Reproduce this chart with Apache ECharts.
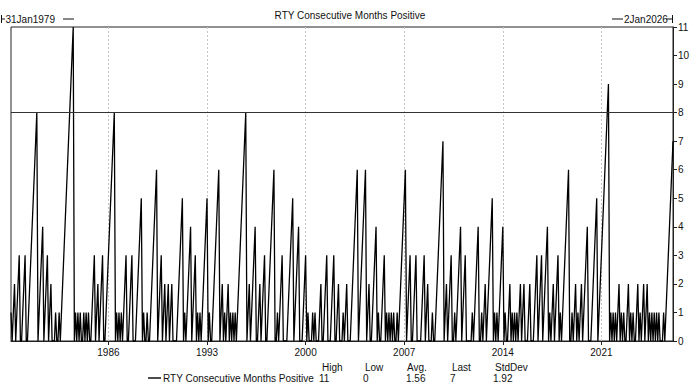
<!DOCTYPE html>
<html>
<head>
<meta charset="utf-8">
<script src="https://cdn.jsdelivr.net/npm/echarts@6/dist/echarts.min.js"></script>
<style>
html,body{margin:0;padding:0;background:#fff;}
#chart{width:700px;height:389px;}
</style>
</head>
<body>
<div id="chart"></div>
<script>
// ---- data (monthly, 31Jan1979 .. 2Jan2026) ----
const chartTitle = 'RTY Consecutive Months Positive';
const seriesName = 'RTY Consecutive Months Positive';
const startLabel = '31Jan1979';
const endLabel = '2Jan2026';
const yearTicks = ['1986', '1993', '2000', '2007', '2014', '2021'];
const statHeaders = ['High', 'Low', 'Avg.', 'Last', 'StdDev'];
const statValues = ['11', '0', '1.56', '7', '1.92'];

const monthsPositive = [
  // 1979
  1,0,1,2,0,1,2,3,0,0,1,2,
  // 1980
  3,0,0,1,2,3,4,5,6,7,8,0,
  // 1981
  1,2,3,4,0,1,2,3,0,1,2,0,
  // 1982
  0,0,1,0,0,1,0,1,2,3,4,5,
  // 1983
  6,7,8,9,10,11,0,1,0,1,0,1,
  // 1984
  0,0,1,0,1,0,1,0,0,1,2,3,
  // 1985
  0,1,2,0,1,2,3,0,0,1,2,3,
  // 1986
  4,5,6,7,8,0,1,0,1,0,1,0,
  // 1987
  1,2,3,0,0,1,2,3,0,0,0,1,
  // 1988
  2,3,4,5,0,1,0,0,1,0,0,1,
  // 1989
  2,3,4,5,6,0,1,2,3,0,1,2,
  // 1990
  0,1,2,0,1,2,0,0,0,0,1,2,
  // 1991
  3,4,5,0,1,0,1,2,3,4,0,1,
  // 1992
  2,3,0,1,0,1,0,1,2,3,4,5,
  // 1993
  0,1,0,0,1,2,3,4,5,6,0,1,
  // 1994
  2,0,1,0,1,2,0,1,0,1,0,1,
  // 1995
  0,1,2,3,4,5,6,7,8,0,1,2,
  // 1996
  0,1,2,3,4,0,0,1,2,0,1,2,
  // 1997
  3,0,0,1,2,3,4,5,6,0,0,1,
  // 1998
  0,1,2,3,0,0,0,0,1,2,3,4,
  // 1999
  5,0,1,2,3,4,0,0,0,1,2,3,
  // 2000
  0,1,0,0,0,1,0,1,0,0,0,1,
  // 2001
  2,0,0,1,2,3,0,0,0,1,2,3,
  // 2002
  0,0,1,2,0,0,0,1,0,1,2,0,
  // 2003
  0,0,1,2,3,4,5,6,0,1,2,3,
  // 2004
  4,5,6,0,1,2,0,0,1,2,3,4,
  // 2005
  0,1,0,0,1,2,3,0,1,0,1,0,
  // 2006
  1,0,1,0,0,1,0,1,2,3,4,5,
  // 2007
  6,0,1,2,3,0,0,1,2,3,0,0,
  // 2008
  0,0,1,2,3,0,1,2,0,0,0,1,
  // 2009
  0,0,1,2,3,4,5,6,7,0,1,2,
  // 2010
  0,1,2,3,0,0,1,0,1,2,3,4,
  // 2011
  0,1,2,3,0,0,0,0,0,1,0,1,
  // 2012
  2,3,4,0,0,1,0,1,2,0,1,2,
  // 2013
  3,4,5,0,1,0,1,0,1,2,3,4,
  // 2014
  0,1,0,0,1,2,0,1,0,1,0,1,
  // 2015
  0,1,2,0,1,2,0,0,0,1,2,0,
  // 2016
  0,0,1,2,3,0,1,2,3,0,1,2,
  // 2017
  3,4,0,1,0,1,2,0,1,2,3,0,
  // 2018
  1,0,1,2,3,4,5,6,0,0,1,0,
  // 2019
  1,2,0,1,0,1,2,0,1,2,3,4,
  // 2020
  0,0,0,1,2,3,4,5,0,1,2,3,
  // 2021
  4,5,6,7,8,9,0,1,0,1,0,1,
  // 2022
  0,1,2,0,1,0,1,0,0,1,2,0,
  // 2023
  1,0,1,0,0,1,2,0,1,0,1,2,
  // 2024
  0,1,2,0,1,0,1,0,1,0,1,0,
  // 2025
  1,0,0,0,1,0,1,2,3,4,5,6,
  // 2026
  7
];

// month categories (one per data point)
const months = [];
for (let y = 1979; y <= 2025; y++) {
  for (let m = 1; m <= 12; m++) months.push(y + '-' + (m < 10 ? '0' + m : m));
}
months.push('2026-01');

const FONT = '"Liberation Sans", Arial, sans-serif';
const TXT = '#111';

function nextYear(v) { return String(parseInt(v.slice(0, 4), 10) + 1); }
function isYearTick(index, v) {
  return v.slice(5) === '12' && yearTicks.indexOf(nextYear(v)) >= 0;
}

const chart = echarts.init(document.getElementById('chart'), null, { renderer: 'svg' });

function txt(x, y, s, align, vAlign) {
  return {
    type: 'text', x: x, y: y, silent: true,
    style: {
      text: s, font: '10px ' + FONT, fill: TXT,
      align: align || 'left', verticalAlign: vAlign || 'middle',
      textAlign: align || 'left', textVerticalAlign: vAlign || 'middle'
    }
  };
}
function seg(x1, y1, x2, y2, w) {
  return {
    type: 'line', silent: true,
    shape: { x1: x1, y1: y1, x2: x2, y2: y2 },
    style: { stroke: TXT, lineWidth: w || 1 }
  };
}

const statX = [[322, 319], [365, 363], [407, 406], [452, 450], [495, 493]];
const graphics = [
  txt(350, 15, chartTitle, 'center'),
  // start date marker
  seg(1.5, 15, 1.5, 23), seg(1.5, 19, 5, 19),
  txt(5.5, 19, startLabel),
  seg(63, 19, 74, 19),
  // end date marker
  seg(612, 19, 623, 19),
  txt(624, 19, endLabel),
  seg(666, 19, 672.5, 19), seg(672.5, 15, 672.5, 23),
  // legend
  seg(148, 378, 161, 378, 1.5),
  txt(163, 378, seriesName)
];
statHeaders.forEach(function (h, i) {
  graphics.push(txt(statX[i][0], 367, h));
  graphics.push(txt(statX[i][1], 378, statValues[i]));
});

chart.setOption({
  animation: false,
  textStyle: { fontFamily: FONT },
  grid: {
    left: 11, right: 27, top: 27, bottom: 48,
    show: true, borderColor: '#222', borderWidth: 1, backgroundColor: 'transparent'
  },
  xAxis: {
    type: 'category',
    data: months,
    boundaryGap: false,
    axisLine: { show: true, lineStyle: { color: '#222', width: 1 } },
    axisTick: { show: true, interval: isYearTick, length: 4, inside: false, lineStyle: { color: '#222' } },
    axisLabel: {
      interval: isYearTick, formatter: function (v) { return nextYear(v); },
      color: TXT, fontSize: 10, margin: 6, fontFamily: FONT
    },
    splitLine: { show: true, interval: isYearTick, lineStyle: { color: '#c4c4c4', type: [2, 2], width: 1 } }
  },
  yAxis: {
    type: 'value',
    position: 'right',
    min: 0, max: 11, interval: 1,
    axisLine: { show: true, lineStyle: { color: '#222', width: 1 } },
    axisTick: { show: true, length: 4, inside: false, lineStyle: { color: '#222' } },
    axisLabel: { color: TXT, fontSize: 10, margin: 5, fontFamily: FONT },
    splitLine: { show: false }
  },
  graphic: graphics,
  series: [{
    name: seriesName,
    type: 'line',
    data: monthsPositive,
    showSymbol: false,
    symbol: 'none',
    lineStyle: { color: '#000', width: 1.3 },
    itemStyle: { color: '#000' },
    silent: true,
    markLine: {
      silent: true,
      symbol: ['none', 'none'],
      label: { show: false },
      lineStyle: { color: '#333', type: 'solid', width: 1 },
      data: [{ yAxis: 8 }]
    }
  }]
});
</script>
</body>
</html>
